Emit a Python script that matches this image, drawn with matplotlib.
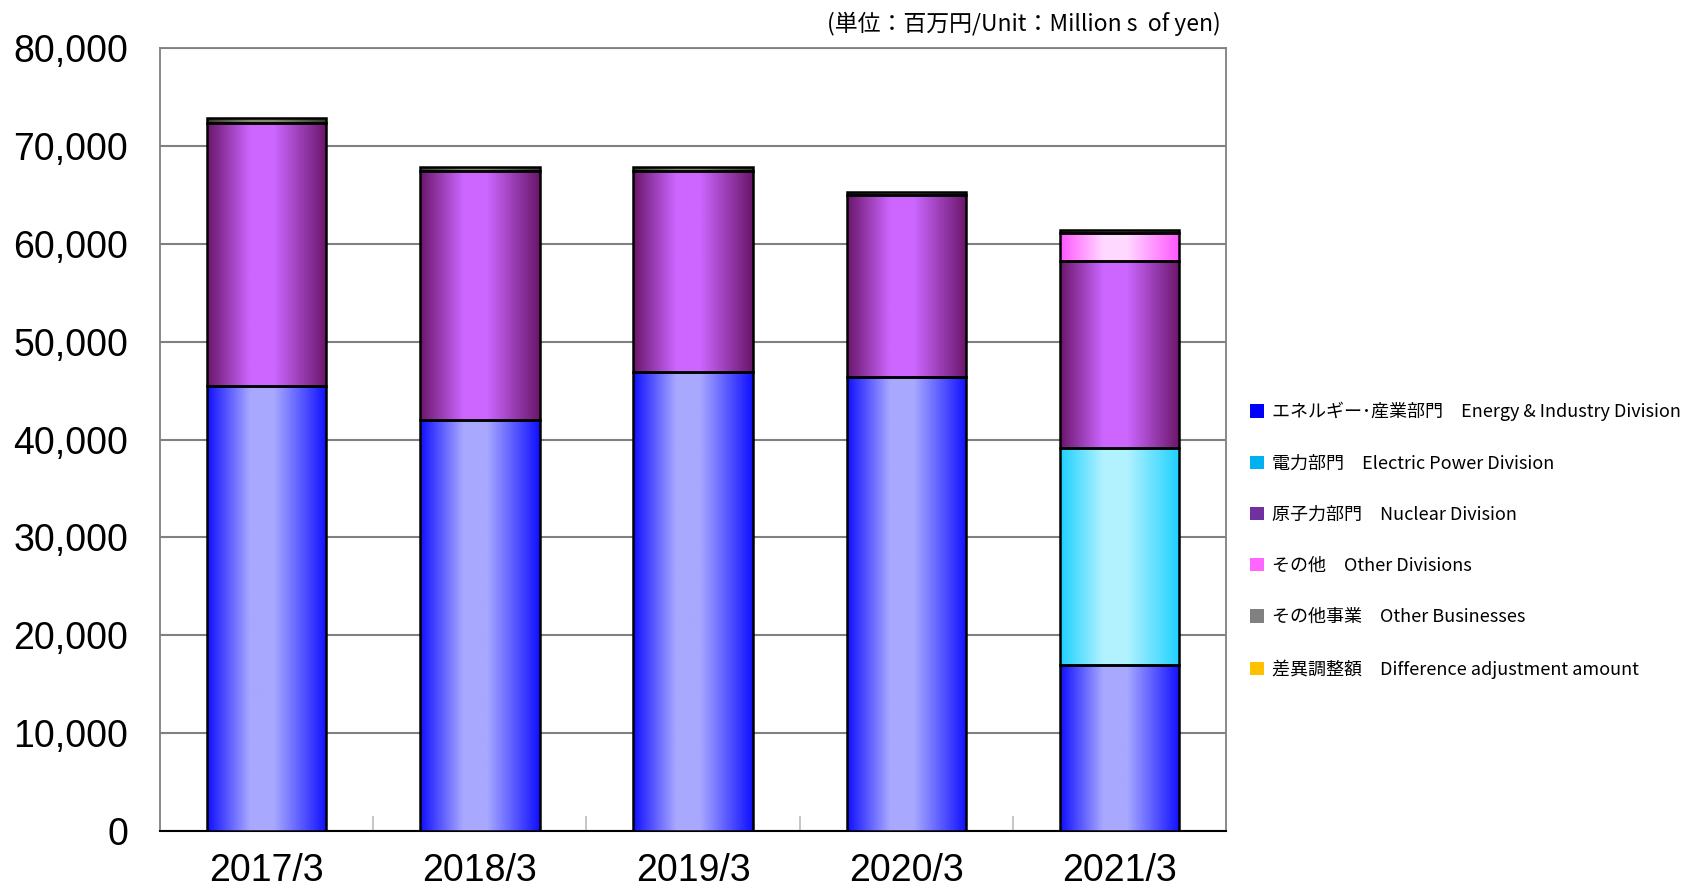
import numpy as np
import matplotlib
matplotlib.use("Agg")
import matplotlib.pyplot as plt
from matplotlib.patches import Patch
from matplotlib.colors import to_rgb

# ---- data ----
years = ['2017/3', '2018/3', '2019/3', '2020/3', '2021/3']
energy = [45450, 41950, 46950, 46400, 17000]
electric = [0, 0, 0, 0, 22120]
nuclear = [26900, 25530, 20530, 18600, 19160]
other_div = [0, 0, 0, 0, 2800]
other_biz = [500, 400, 350, 330, 340]
diff_adj = [0, 0, 0, 0, 0]

labels = ['エネルギー･産業部門　Energy & Industry Division',
          '電力部門　Electric Power Division',
          '原子力部門　Nuclear Division',
          'その他　Other Divisions',
          'その他事業　Other Businesses',
          '差異調整額　Difference adjustment amount']
legend_colors = ['#0000FF', '#00B0F0', '#7030A0', '#FF66FF', '#808080', '#FFC000']
grad = [('#1010FF', '#A8A8FF'),
        ('#1ED0FF', '#B2F2FF'),
        ('#6A166A', '#CC66FF'),
        ('#FF55FF', '#FFD8FF'),
        ('#3A3A2A', '#8A8A70'),
        ('#E0A000', '#FFE080')]

series = [energy, electric, nuclear, other_div, other_biz, diff_adj]

fig = plt.figure(figsize=(17.04, 8.92), dpi=100)
ax = fig.add_axes([0.0939, 0.0684, 0.6256, 0.8776])
ax.set_xlim(-0.5, len(years) - 0.5)
ax.set_ylim(0, 80000)

def grad_img(edge, center, n=200):
    e = np.array(to_rgb(edge)); c = np.array(to_rgb(center))
    t = np.linspace(0, 1, n)
    w = np.where(t < 0.45, t / 0.45, (1 - t) / 0.55)
    w = np.clip(w * 1.25, 0, 1)
    img = e[None, :] * (1 - w[:, None]) + c[None, :] * w[:, None]
    return img[None, :, :]

x = np.arange(len(years))
bottom = np.zeros(len(years))
for vals, (ec, cc) in zip(series, grad):
    vals = np.array(vals, dtype=float)
    bars = ax.bar(x, vals, width=0.56, bottom=bottom, facecolor='none',
                  edgecolor='black', linewidth=1.8, zorder=4)
    img = grad_img(ec, cc)
    for p, v in zip(bars.patches, vals):
        if v <= 0:
            p.set_visible(False)
            continue
        x0, y0 = p.get_x(), p.get_y()
        im = ax.imshow(img, extent=[x0, x0 + p.get_width(), y0, y0 + p.get_height()],
                       aspect='auto', zorder=3, interpolation='bilinear')
        im.set_clip_path(p)
    bottom += vals

ax.set_xlim(-0.5, len(years) - 0.5)
ax.set_ylim(0, 80000)

ax.set_yticks(np.arange(0, 80001, 10000))
ax.set_yticklabels([f'{v:,}' for v in range(0, 80001, 10000)],
                   fontsize=27, family='Liberation Sans')
ax.yaxis.grid(True, color='#808080', linewidth=1.5, zorder=0)
ax.set_axisbelow(True)
ax.tick_params(axis='y', length=0, pad=23)

ax.set_xticks(x)
ax.set_xticklabels(years, fontsize=27, family='Liberation Sans')
ax.tick_params(axis='x', length=0, pad=16)
ax.set_xticks(np.arange(0.5, len(years) - 0.5, 1), minor=True)
ax.tick_params(axis='x', which='minor', direction='in', length=11, color='#BBBBBB', width=1.2)

for s in ['left', 'top', 'right']:
    ax.spines[s].set_color('#808080')
    ax.spines[s].set_linewidth(1.3)
ax.spines['bottom'].set_color('black')
ax.spines['bottom'].set_linewidth(1.5)

fig.text(1221 / 1704, 1 - 24 / 892, '(単位：百万円/Unit：Million s  of yen)',
         ha='right', va='center', fontsize=16.5, family=['Noto Sans CJK JP', 'DejaVu Sans'])

handles = [Patch(facecolor=c, edgecolor='none') for c in legend_colors]
leg = fig.legend(handles, labels, loc='upper left', bbox_to_anchor=(1250 / 1704, 1 - 402 / 892),
                 frameon=False, prop={'family': ['Noto Sans CJK JP', 'DejaVu Sans'], 'size': 13},
                 handlelength=0.75, handleheight=0.75, handletextpad=0.45, labelspacing=1.84,
                 borderaxespad=0, borderpad=0)

fig.savefig('out.png', dpi=100)
